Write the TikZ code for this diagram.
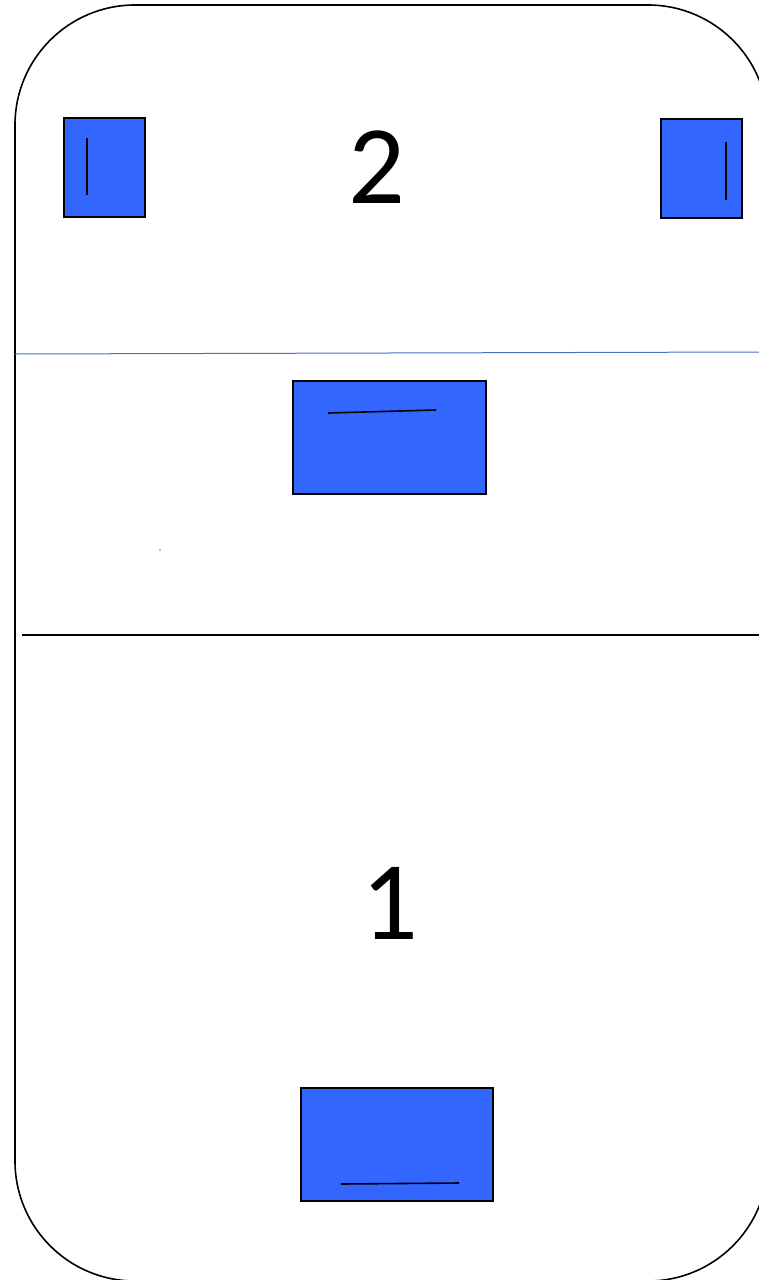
\documentclass[tikz,border=0pt]{standalone}
\usepackage{fontspec}
\setmainfont{Carlito}
\definecolor{boxblue}{HTML}{3366FF}
\definecolor{lineblue}{HTML}{4472C4}
\begin{document}
\begin{tikzpicture}[x=1pt,y=-1pt,
  bluebox/.style={draw=black,line width=1.6pt,fill=boxblue,inner sep=0pt,anchor=north west},
  mark line/.style={line width=1.6pt,black},
  numlabel/.style={font=\fontsize{112}{112}\selectfont,inner sep=0pt}]
\useasboundingbox (0,0) rectangle (759,1280);
\clip (0,0) rectangle (759,1280);
\draw[line width=1.6pt,rounded corners=120pt] (15,5) rectangle (768,1281);
\draw[lineblue,line width=1pt] (15,354) -- (759,352);
\draw[line width=2.4pt] (22,635) -- (759,635);
\node[bluebox,minimum width=81pt,minimum height=99pt] (tl) at (63,117) {};
\node[bluebox,minimum width=81pt,minimum height=99pt] (tr) at (660,118) {};
\node[bluebox,minimum width=193pt,minimum height=113pt] (mid) at (292,380) {};
\node[bluebox,minimum width=192pt,minimum height=113pt] (bot) at (300,1087) {};
\draw[mark line] (87,138) -- (87,195);
\draw[mark line] (726,142) -- (726,200);
\draw[mark line] (328,413) -- (436,410);
\draw[mark line] (341,1184) -- (459,1183);
\node[numlabel] (two) at (377,167) {2};
\node[numlabel] (one) at (390,903) {1};
\fill[gray] (160,550) circle (0.8pt);
\end{tikzpicture}
\end{document}
